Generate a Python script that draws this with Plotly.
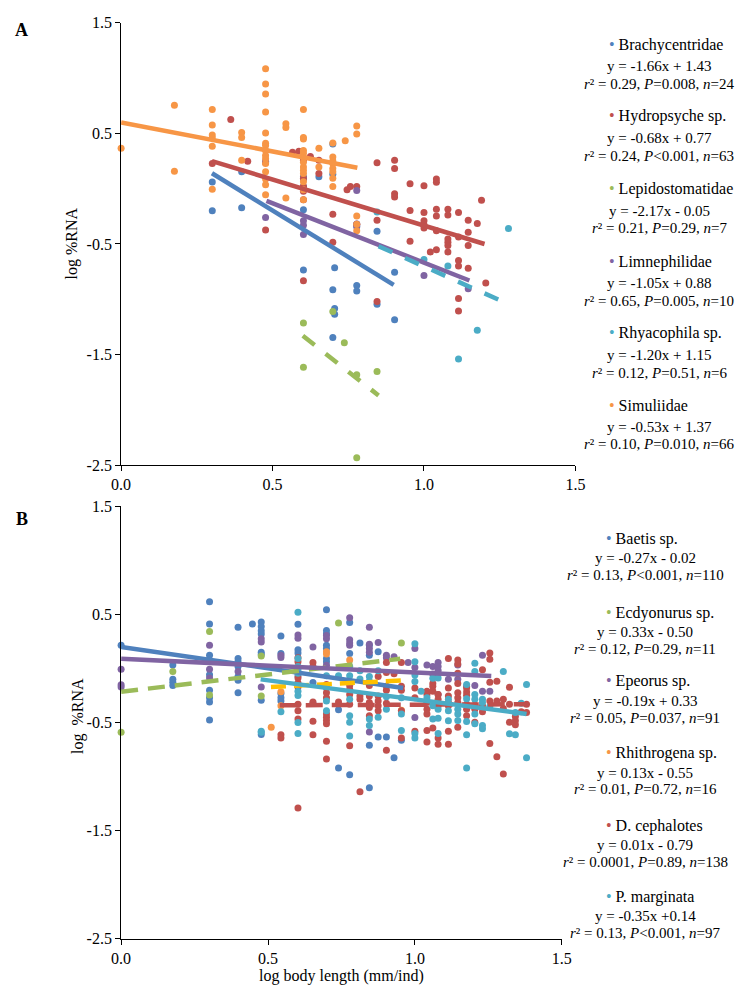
import plotly.graph_objects as go

# page is 751x1002; body keeps its default 8px margin, so the figure is 735x986
PAGE_W, PAGE_H = 751, 1002
OFF = 8
W, H = PAGE_W - 2 * OFF, PAGE_H - 2 * OFF
FONT = "Liberation Serif"

# ---------------- Panel A data ----------------
brachy_x = [0.301, 0.301, 0.398, 0.398, 0.602, 0.602, 0.602, 0.602, 0.653, 0.699, 0.699, 0.699,
            0.705, 0.705, 0.705, 0.778, 0.778, 0.778, 0.845, 0.845, 0.903, 0.903, 0.602, 0.699]
brachy_y = [0.06, -0.20, 0.153, -0.172, 0.108, 0.088, -0.19, -0.735, 0.108, 0.405, -0.913, -1.345,
            -0.714, -1.084, -1.135, -0.875, -0.925, -0.335, -0.385, -1.046, -0.756, -1.185, 0.02, 0.13]

hydro_x = [0.301, 0.362, 0.418, 0.477, 0.477, 0.566, 0.587, 0.602, 0.602, 0.602, 0.602, 0.602, 0.602,
           0.625, 0.653, 0.653, 0.699, 0.699, 0.746, 0.757, 0.778, 0.778, 0.845, 0.845, 0.845,
           0.903, 0.903, 0.903, 0.903, 0.954, 0.954, 0.954, 1.0, 1.0, 1.0, 1.0, 1.0,
           1.041, 1.041, 1.041, 1.041, 1.041, 1.041, 1.021, 1.079, 1.079, 1.079, 1.079, 1.079, 1.079,
           1.114, 1.114, 1.114, 1.114, 1.114, 1.114, 1.146, 1.146, 1.146, 1.146, 1.176, 1.19, 1.204]
hydro_y = [0.227, 0.627, 0.248, 0.236, -0.374, 0.33, 0.34, 0.257, 0.094, 0.02, -0.024, -0.099, -0.833,
           0.292, 0.257, 0.138, -0.232, -0.484, -0.01, 0.02, 0.02, -0.321, 0.236, -0.285, -1.02,
           0.257, 0.183, -0.045, -0.075, 0.044, -0.196, -0.474, 0.026, -0.216, -0.29, -0.326, -0.356,
           0.088, 0.058, -0.185, -0.247, -0.38, -0.551, -0.572, -0.185, -0.238, -0.454, -0.484, -0.513, -0.572,
           -0.216, -0.437, -0.65, -0.70, -0.993, -1.105, -0.285, -0.394, -0.513, -0.72, -0.315, -0.105, -0.853]

lepido_x = [0.602, 0.602, 0.699, 0.737, 0.778, 0.845, 0.778]
lepido_y = [-1.215, -1.615, -1.111, -1.393, -1.682, -1.653, -2.434]

limne_x = [0.477, 0.477, 0.602, 0.602, 0.602, 0.778, 0.778, 0.778, 1.0, 1.146]
limne_y = [-0.26, 0.248, -0.29, -0.415, -0.33, -0.016, -0.345, -0.32, -0.785, -0.905]

rhyaco_x = [0.845, 1.0, 1.079, 1.114, 1.176, 1.279]
rhyaco_y = [-0.21, -0.64, -0.70, -1.54, -1.28, -0.36]

simul_x = [0.0, 0.176, 0.176,
           0.301, 0.301, 0.301, 0.301, 0.301, 0.301,
           0.398, 0.398, 0.398,
           0.477, 0.477, 0.477, 0.477, 0.477, 0.477, 0.477, 0.477, 0.477, 0.477, 0.477, 0.477, 0.477, 0.477, 0.477,
           0.544, 0.544, 0.544,
           0.602, 0.602, 0.602, 0.602, 0.602, 0.602, 0.602, 0.602, 0.602, 0.602, 0.602, 0.602, 0.602,
           0.653, 0.653,
           0.699, 0.699, 0.699, 0.699, 0.699, 0.699, 0.699, 0.699,
           0.740,
           0.778, 0.778, 0.778, 0.778, 0.778]
simul_y = [0.366, 0.754, 0.159,
           0.716, 0.576, 0.485, 0.458, 0.384, -0.004,
           0.508, 0.464, 0.257,
           1.085, 0.947, 0.856, 0.695, 0.503, 0.411, 0.39, 0.345, 0.301, 0.272, 0.227, 0.153, 0.088, 0.035, -0.054,
           0.588, 0.553, -0.084,
           0.716, 0.464, 0.449, 0.345, 0.286, 0.197, 0.167, 0.138, 0.064, -0.010, -0.099, 0.32, 0.24,
           0.366, 0.197,
           0.414, 0.286, 0.227, 0.183, 0.153, 0.094, 0.020, 0.25,
           0.434,
           0.567, 0.494, -0.247, -0.321, -0.380]

a_names = ["Brachycentridae", "Hydropsyche sp.", "Lepidostomatidae", "Limnephilidae", "Rhyacophila sp.", "Simuliidae"]
a_colors = ["#4F81BD", "#C0504D", "#9BBB59", "#8064A2", "#4BACC6", "#F79646"]
a_line_colors = ["#4F81BD", "#C0504D", "#9BBB59", "#8064A2", "#4BACC6", "#F79646"]
a_line_x0 = [0.30, 0.30, 0.60, 0.48, 0.85, 0.0]
a_line_x1 = [0.90, 1.20, 0.85, 1.15, 1.26, 0.78]
a_line_y0 = [0.14, 0.25, -1.33, -0.11, -0.52, 0.60]
a_line_y1 = [-0.87, -0.50, -1.87, -0.83, -1.02, 0.19]
a_line_dash = ["solid", "solid", "15px,14px", "solid", "15px,14px", "solid"]
a_eq = ["y = -1.66x + 1.43", "y = -0.68x + 0.77", "y = -2.17x - 0.05",
        "y = -1.05x + 0.88", "y = -1.20x + 1.15", "y = -0.53x + 1.37"]
a_stats = ["<i>r</i>² = 0.29, <i>P</i>=0.008, <i>n</i>=24",
           "<i>r</i>² = 0.24, <i>P</i><0.001, <i>n</i>=63",
           "<i>r</i>² = 0.21, <i>P</i>=0.29, <i>n</i>=7",
           "<i>r</i>² = 0.65, <i>P</i>=0.005, <i>n</i>=10",
           "<i>r</i>² = 0.12, <i>P</i>=0.51, <i>n</i>=6",
           "<i>r</i>² = 0.10, <i>P</i>=0.010, <i>n</i>=66"]
a_xs = [brachy_x, hydro_x, lepido_x, limne_x, rhyaco_x, simul_x]
a_ys = [brachy_y, hydro_y, lepido_y, limne_y, rhyaco_y, simul_y]

# ---------------- Panel B data ----------------
baetis_x = [0.0, 0.176, 0.176, 0.176, 0.176,
            0.301, 0.301, 0.301, 0.301, 0.301, 0.301, 0.301, 0.301,
            0.398, 0.398, 0.398, 0.398, 0.398, 0.398, 0.398,
            0.447,
            0.477, 0.477, 0.477, 0.477, 0.477, 0.477, 0.477, 0.477,
            0.544, 0.544, 0.544, 0.544, 0.544,
            0.602, 0.602, 0.602, 0.602,
            0.653,
            0.699, 0.699, 0.699, 0.699, 0.699, 0.699, 0.699, 0.699,
            0.740, 0.740,
            0.778, 0.778, 0.778, 0.778,
            0.813,
            0.845, 0.845, 0.845, 0.845,
            0.875, 0.875, 0.903, 0.929, 0.954]
baetis_y = [0.215, 0.034, -0.10, -0.127, -0.157,
            0.618, 0.412, 0.124, -0.057, -0.20, -0.27, -0.309, -0.475,
            0.382, 0.094, 0.064, 0.018, -0.073, -0.109, -0.224,
            0.412,
            0.43, 0.39, 0.35, 0.32, 0.15, 0.13, -0.294, -0.61,
            0.30, 0.14, -0.23, -0.27, -0.30,
            0.41, 0.175, 0.145, -0.07,
            -0.13,
            0.543, 0.352, 0.321, 0.215, 0.185, 0.094, 0.064, -0.18,
            -0.38, -0.921,
            0.427, 0.14, -0.118, -0.982,
            0.236,
            0.215, 0.124, -0.709, -1.103,
            0.155, -0.633, -0.633, -0.824, -0.664]

ecdy_x = [0.0, 0.176, 0.301, 0.301, 0.477, 0.477, 0.740, 0.954]
ecdy_y = [-0.59, -0.027, 0.343, -0.245, 0.115, -0.255, 0.421, 0.236]

epeorus_x = [0.0, 0.0, 0.0, 0.301, 0.301, 0.301, 0.398, 0.477, 0.477, 0.477, 0.544, 0.544,
             0.602, 0.602, 0.602, 0.653, 0.653, 0.699, 0.699, 0.699,
             0.778, 0.778, 0.778, 0.778, 0.845, 0.845, 0.845, 0.845, 0.845,
             0.875, 0.903, 0.903, 0.929, 0.977, 1.0, 1.0, 1.0, 1.041, 1.061, 1.061,
             1.079, 1.079, 1.079, 1.079, 1.079, 1.114, 1.146, 1.146, 1.176, 1.204, 1.230, 1.230, 1.255]
epeorus_y = [-0.006, -0.15, -0.17, 0.215, -0.006, -0.088, -0.027, 0.276, 0.245, -0.17, 0.124, 0.103,
             0.31, 0.28, -0.15, 0.2, -0.32, 0.306, 0.276, 0.03,
             0.47, 0.267, 0.236, 0.215, 0.382, 0.224, 0.185, 0.15, -0.588,
             0.24, 0.124, 0.10, 0.109, 0.055, 0.185, 0.01, -0.452, 0.034, 0.018, -0.05,
             0.055, 0.018, -0.018, -0.05, -0.239, -0.10, 0.034, -0.10, -0.164, -0.157, 0.124, -0.209, -0.209]

rhith_x = [0.511, 0.544, 0.544, 0.699, 0.699, 0.778, 0.954]
rhith_y = [-0.543, -0.215, -0.345, 0.155, 0.134, 0.079, -0.385]

dceph_x = [0.544, 0.544,
           0.602, 0.602, 0.602, 0.602, 0.602, 0.602, 0.602, 0.602, 0.602,
           0.653, 0.653, 0.653, 0.653, 0.653,
           0.699, 0.699, 0.699, 0.699, 0.699, 0.699, 0.699, 0.699, 0.699,
           0.740,
           0.778, 0.778, 0.778, 0.778, 0.778,
           0.813, 0.813, 0.813,
           0.845, 0.845, 0.845, 0.845, 0.845,
           0.875, 0.875, 0.875, 0.875, 0.875,
           0.903, 0.903, 0.903, 0.903, 0.903, 0.903,
           0.929,
           0.954, 0.954, 0.954, 0.954, 0.954,
           1.0, 1.0, 1.0,
           1.041, 1.041, 1.041, 1.041, 1.041, 1.041, 1.041,
           1.061, 1.061, 1.061, 1.061,
           1.079, 1.079, 1.079, 1.079, 1.079,
           1.114, 1.114, 1.114, 1.114, 1.114, 1.114, 1.114,
           1.146, 1.146, 1.146, 1.146, 1.146, 1.146, 1.146, 1.146,
           1.176, 1.176, 1.176, 1.176, 1.176, 1.176,
           1.204, 1.204, 1.204,
           1.230, 1.230, 1.230,
           1.255, 1.255, 1.255, 1.255, 1.255,
           1.279, 1.279, 1.279,
           1.301, 1.301, 1.301,
           1.322, 1.322, 1.322,
           1.342, 1.342, 1.342,
           1.362, 1.380, 1.380]
dceph_y = [-0.612, -0.643,
           0.10, 0.064, -0.088, -0.134, -0.17, -0.33, -0.39, -0.466, -1.29,
           0.057, 0.018, -0.31, -0.488, -0.612,
           -0.148, -0.224, -0.27, -0.42, -0.45, -0.48, -0.51, -0.673, -0.836,
           -0.31,
           -0.157, -0.194, -0.239, -0.33, -0.715,
           -0.255, -0.285, -1.14,
           -0.157, -0.255, -0.315, -0.36, -0.436,
           -0.073, -0.255, -0.30, -0.345, -0.39,
           0.055, -0.036, -0.164, -0.20, -0.321, -0.755,
           -0.048,
           0.055, -0.164, -0.20, -0.39, -0.643,
           -0.18, -0.27, -0.58,
           -0.209, -0.24, -0.315, -0.376, -0.42, -0.573, -0.68,
           -0.139, -0.164, -0.209, -0.55,
           -0.24, -0.285, -0.345, -0.643, -0.70,
           0.094, -0.179, -0.255, -0.315, -0.345, -0.58, -0.70,
           0.079, 0.043, -0.043, -0.139, -0.224, -0.27, -0.315, -0.543,
           -0.179, -0.218, -0.248, -0.33, -0.376, -0.436,
           -0.34, -0.376, -0.497,
           -0.012, -0.345, -0.40,
           0.145, 0.085, -0.127, -0.30, -0.694,
           -0.118, -0.815, -0.30,
           -0.285, -0.976, -0.37,
           -0.173, -0.33, -0.497,
           -0.443, -0.482, -0.52,
           -0.40, -0.33, -0.406]

pmarg_x = [0.477, 0.477, 0.544,
           0.602, 0.602, 0.602, 0.602, 0.602, 0.602, 0.602, 0.602, 0.602,
           0.699, 0.699, 0.699, 0.740,
           0.778, 0.778, 0.778, 0.778, 0.778, 0.778,
           0.813, 0.813,
           0.845, 0.845, 0.845, 0.845,
           0.875, 0.875, 0.903, 0.903,
           0.954, 0.954, 0.954,
           1.0, 1.0, 1.0, 1.0, 1.0, 1.0,
           1.021, 1.041,
           1.061, 1.061, 1.061,
           1.079, 1.079, 1.079, 1.079,
           1.114, 1.114, 1.114,
           1.146, 1.146, 1.146,
           1.176, 1.176, 1.176, 1.176, 1.176,
           1.204, 1.204, 1.204, 1.204, 1.204, 1.204,
           1.230, 1.230, 1.230, 1.230,
           1.255, 1.301, 1.322, 1.342, 1.342, 1.362, 1.380, 1.380]
pmarg_y = [-0.58, -0.59, -0.40,
           0.52, 0.094, 0.018, -0.012, -0.043, -0.21, -0.25, -0.50, -0.60,
           -0.067, -0.30, -0.39, -0.067,
           0.018, -0.067, -0.285, -0.436, -0.497, -0.624,
           -0.097, -0.02,
           -0.073, -0.118, -0.466, -0.527,
           -0.02, -0.45, -0.261, -0.376,
           -0.27, -0.42, -0.573,
           0.23, 0.064, -0.06, -0.12, -0.60, -0.643,
           -0.209, -0.27,
           -0.09, -0.345, -0.466,
           -0.088, -0.376, -0.46, -0.60,
           -0.285, -0.39, -0.482,
           -0.376, -0.42, -0.48,
           -0.148, -0.28, -0.49, -0.612, -0.921,
           0.048, -0.027, -0.24, -0.285, -0.42, -0.51,
           -0.285, -0.315, -0.527, -0.557,
           -0.35, -0.027, -0.603, -0.406, -0.612, -0.321, -0.148, -0.824]

b_names = ["Baetis sp.", "Ecdyonurus sp.", "Epeorus sp.", "Rhithrogena sp.", "D. cephalotes", "P. marginata"]
b_colors = ["#4F81BD", "#9BBB59", "#8064A2", "#F79646", "#C0504D", "#4BACC6"]
b_line_colors = ["#4F81BD", "#9BBB59", "#8064A2", "#FFC000", "#C0504D", "#4BACC6"]
b_line_x0 = [0.0, 0.0, 0.0, 0.51, 0.54, 0.475]
b_line_x1 = [0.96, 0.95, 1.26, 0.96, 1.38, 1.38]
b_line_y0 = [0.20, -0.215, 0.09, -0.17, -0.34, -0.10]
b_line_y1 = [-0.18, 0.09, -0.07, -0.11, -0.33, -0.42]
b_line_dash = ["solid", "17px,10px", "solid", "15px,8px", "17px,9px", "solid"]
b_eq = ["y = -0.27x - 0.02", "y = 0.33x - 0.50", "y = -0.19x + 0.33",
        "y = 0.13x - 0.55", "y = 0.01x - 0.79", "y = -0.35x +0.14"]
b_stats = ["<i>r</i>² = 0.13, <i>P</i><0.001, <i>n</i>=110",
           "<i>r</i>² = 0.12, <i>P</i>=0.29, <i>n</i>=11",
           "<i>r</i>² = 0.05, <i>P</i>=0.037, <i>n</i>=91",
           "<i>r</i>² = 0.01, <i>P</i>=0.72, <i>n</i>=16",
           "<i>r</i>² = 0.0001, <i>P</i>=0.89, <i>n</i>=138",
           "<i>r</i>² = 0.13, <i>P</i><0.001, <i>n</i>=97"]
b_xs = [baetis_x, ecdy_x, epeorus_x, rhith_x, dceph_x, pmarg_x]
b_ys = [baetis_y, ecdy_y, epeorus_y, rhith_y, dceph_y, pmarg_y]

x_tickvals = [0.0, 0.5, 1.0, 1.5]
x_ticktext = ["0.0", "0.5", "1.0", "1.5"]
y_tickvals = [-2.5, -1.5, -0.5, 0.5, 1.5]
y_ticktext = ["-2.5", "-1.5", "-0.5", "0.5", "1.5"]

fig = go.Figure()


def add_panel(xs_list, ys_list, colors, lx0, lx1, ly0, ly1, lcolors, ldash, xa, ya, lw):
    for xs, ys, c in zip(xs_list, ys_list, colors):
        fig.add_trace(go.Scatter(x=xs, y=ys, mode="markers", xaxis=xa, yaxis=ya,
                                 marker=dict(size=7, color=c, line=dict(width=0)),
                                 cliponaxis=False, showlegend=False, hoverinfo="skip"))
    for i in range(len(lx0)):
        fig.add_trace(go.Scatter(x=[lx0[i], lx1[i]], y=[ly0[i], ly1[i]], mode="lines",
                                 xaxis=xa, yaxis=ya,
                                 line=dict(color=lcolors[i], width=lw, dash=ldash[i]),
                                 cliponaxis=False, showlegend=False, hoverinfo="skip"))


add_panel(a_xs, a_ys, a_colors, a_line_x0, a_line_x1, a_line_y0, a_line_y1,
          a_line_colors, a_line_dash, "x", "y", 4.5)
add_panel(b_xs, b_ys, b_colors, b_line_x0, b_line_x1, b_line_y0, b_line_y1,
          b_line_colors, b_line_dash, "x2", "y2", 4.5)

axis_common = dict(showgrid=False, zeroline=False, showline=True, linecolor="#000000", linewidth=1,
                   ticks="outside", ticklen=5, tickwidth=1, tickcolor="#000000",
                   tickfont=dict(family=FONT, size=16, color="#000000"), fixedrange=True)


def px_x(p):
    # page pixel -> paper fraction
    return (p - OFF) / W


def px_y(p):
    return 1 - (p - OFF) / H


fig.update_layout(
    width=W, height=H, margin=dict(l=0, r=0, t=0, b=0),
    paper_bgcolor="white", plot_bgcolor="white", showlegend=False,
    xaxis=dict(axis_common, range=[0, 1.5], tickvals=x_tickvals, ticktext=x_ticktext,
               domain=[px_x(114), px_x(581)], anchor="y"),
    yaxis=dict(axis_common, range=[-2.5, 1.5], tickvals=y_tickvals, ticktext=y_ticktext,
               domain=[px_y(465), px_y(15)], anchor="x"),
    xaxis2=dict(axis_common, range=[0, 1.5], tickvals=x_tickvals, ticktext=x_ticktext,
                domain=[px_x(114), px_x(567)], anchor="y2"),
    yaxis2=dict(axis_common, range=[-2.5, 1.5], tickvals=y_tickvals, ticktext=y_ticktext,
                domain=[px_y(947), px_y(507)], anchor="x2"),
)

ann = []
tf = dict(family=FONT, size=16, color="#000000")
ef = dict(family=FONT, size=15, color="#000000")


def legend_block(names, colors, eqs, stats, name_y, name_x, eq_cx, gap1, gap2):
    for i, nm in enumerate(names):
        y0 = name_y[i]
        ann.append(dict(x=px_x(name_x), y=px_y(y0), xref="paper", yref="paper", xanchor="left",
                        yanchor="middle", showarrow=False, font=tf,
                        text=f"<span style='color:{colors[i]}'>•</span> {nm}"))
        ann.append(dict(x=px_x(eq_cx), y=px_y(y0 + gap1), xref="paper", yref="paper", xanchor="center",
                        yanchor="middle", showarrow=False, font=ef, text=eqs[i]))
        ann.append(dict(x=px_x(eq_cx), y=px_y(y0 + gap2), xref="paper", yref="paper", xanchor="center",
                        yanchor="middle", showarrow=False, font=ef, text=stats[i]))


a_name_y = [37, 110, 184, 258, 331, 404]
b_name_y = [540, 615, 685, 758, 832, 904]
legend_block(a_names, a_colors, a_eq, a_stats, a_name_y, 613, 667, 22, 40)
legend_block(b_names, b_colors, b_eq, b_stats, b_name_y, 610, 653, 20, 37)

ann.append(dict(x=px_x(12), y=px_y(22), xref="paper", yref="paper", xanchor="center", yanchor="middle",
                showarrow=False, text="<b>A</b>", font=dict(family=FONT, size=18, color="#000")))
ann.append(dict(x=px_x(12), y=px_y(520), xref="paper", yref="paper", xanchor="center", yanchor="middle",
                showarrow=False, text="<b>B</b>", font=dict(family=FONT, size=18, color="#000")))
ann.append(dict(x=px_x(63), y=px_y(240), xref="paper", yref="paper", xanchor="center", yanchor="middle",
                showarrow=False, text="log %RNA", textangle=-90, font=tf))
ann.append(dict(x=px_x(69), y=px_y(720), xref="paper", yref="paper", xanchor="center", yanchor="middle",
                showarrow=False, text="log  %RNA", textangle=-90, font=tf))
ann.append(dict(x=px_x(341), y=px_y(985), xref="paper", yref="paper", xanchor="center", yanchor="middle",
                showarrow=False, text="log body length (mm/ind)", font=tf))

fig.update_layout(annotations=ann)
fig.write_html("out.html", config={"displayModeBar": False, "staticPlot": True})
